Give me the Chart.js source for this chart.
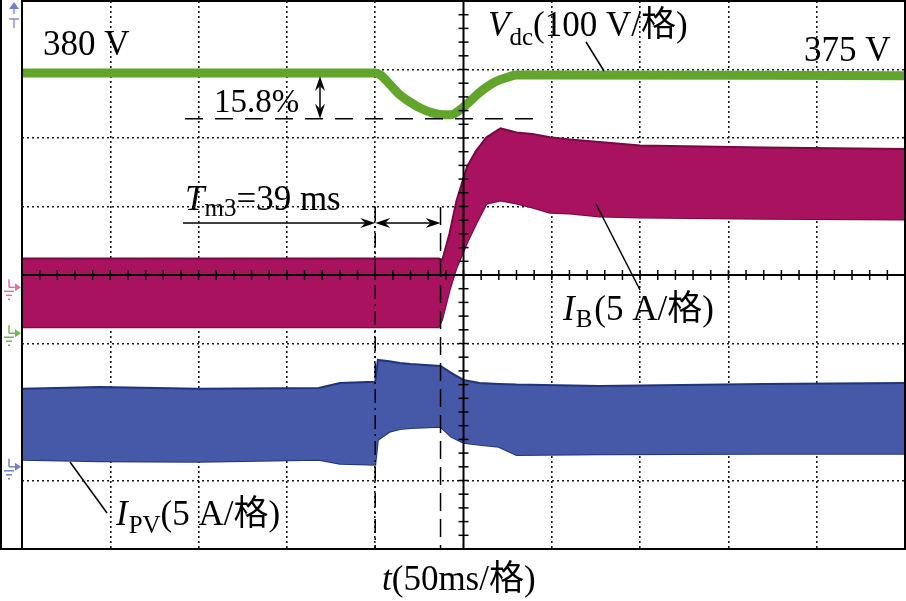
<!DOCTYPE html>
<html>
<head>
<meta charset="utf-8">
<script src="https://cdn.jsdelivr.net/npm/chart.js@4.4.0/dist/chart.umd.min.js"></script>
<style>
  html, body { margin: 0; padding: 0; background: #fff; }
</style>
</head>
<body>
<canvas id="scope" width="906" height="601"></canvas>
<script>
// t axis: 50 ms per division, 10 divisions
const tMin = 0
const tMax = 500

// Vdc (V), 100 V/div
const vdcTime = [0, 200, 203, 208, 214, 220, 226, 232, 238, 243, 248, 253, 258, 263, 268, 274, 280, 500]
const vdcVolts = [380, 380, 377, 364, 348, 337, 328, 322, 319, 319, 326, 337, 349, 359, 367, 373, 377, 376]

// IB envelope (A), 5 A/div
const ibTime = [0, 236, 238, 242, 246, 252, 257, 263, 271, 280, 289, 299, 310, 327, 350, 420, 500]
const ibUpper = [2.11, 2.11, 2.0, 3.9, 6.3, 8.8, 9.95, 10.95, 11.6, 11.3, 11.2, 10.95, 10.8, 10.6, 10.35, 10.2, 10.1]
const ibLower = [-2.92, -2.92, -2.3, -0.27, 1.41, 3.24, 4.6, 6.1, 6.34, 6.12, 5.83, 5.45, 5.39, 5.17, 5.1, 5.0, 4.96]

// IPV envelope (A), 5 A/div
const ipvTime = [0, 44, 100, 168, 180, 200, 201.5, 208, 214, 220, 237, 243, 250, 259, 270, 280, 327, 420, 500]
const ipvUpper = [5.69, 5.83, 5.69, 5.76, 6.12, 6.2, 7.8, 7.7, 7.58, 7.5, 7.36, 6.85, 6.34, 6.12, 6.05, 6.0, 5.9, 6.05, 6.12]
const ipvLower = [0.51, 0.4, 0.36, 0.51, 0.22, 0.15, 1.97, 2.55, 2.75, 2.84, 2.92, 2.2, 1.75, 1.6, 1.46, 0.87, 0.92, 0.95, 0.95]

// channel scale (units per division) and ground level (divisions from centre)
const vdcPerDiv = 100, vdcGround = -0.85
const ibPerDiv = 5, ibGround = -0.18
const ipvPerDiv = 5, ipvGround = -2.8

// marker times for the Tm3 annotation (ms)
const markStart = 200
const markEnd = 237

const serif = "'Liberation Serif', 'Times New Roman', 'Noto Sans CJK SC', serif"

function toPoints(times, values, perDiv, ground) {
  return times.map((t, i) => ({ x: t, y: values[i] / perDiv + ground }))
}

function band(times, values, perDiv, ground, fill, edge, fillTo) {
  return {
    data: toPoints(times, values, perDiv, ground),
    borderColor: edge,
    backgroundColor: fill,
    borderWidth: 2,
    pointRadius: 0,
    tension: 0,
    fill: fillTo
  }
}

function drawRich(ctx, x, y, parts) {
  parts.forEach(p => {
    ctx.font = (p.italic ? 'italic ' : '') + p.size + 'px ' + serif
    ctx.fillText(p.t, x, y + (p.dy || 0))
    x += ctx.measureText(p.t).width + (p.gap || 0)
  })
}

function arrowHead(ctx, x, y, dir, horizontal) {
  // dir = +1 / -1, tip at (x, y)
  ctx.beginPath()
  if (horizontal) {
    ctx.moveTo(x, y)
    ctx.lineTo(x - dir * 15, y - 5)
    ctx.lineTo(x - dir * 10, y)
    ctx.lineTo(x - dir * 15, y + 5)
  } else {
    ctx.moveTo(x, y)
    ctx.lineTo(x - 5, y - dir * 15)
    ctx.lineTo(x, y - dir * 10)
    ctx.lineTo(x + 5, y - dir * 15)
  }
  ctx.closePath()
  ctx.fill()
}

function line(ctx, x1, y1, x2, y2, dash) {
  ctx.setLineDash(dash || [])
  ctx.beginPath()
  ctx.moveTo(x1, y1)
  ctx.lineTo(x2, y2)
  ctx.stroke()
  ctx.setLineDash([])
}

function groundMarker(ctx, y, color) {
  ctx.save()
  ctx.strokeStyle = color
  ctx.fillStyle = color
  ctx.lineWidth = 1.5
  line(ctx, 9, y - 8, 9, y)
  line(ctx, 9, y, 16, y)
  ctx.beginPath()
  ctx.moveTo(21, y)
  ctx.lineTo(15, y - 4)
  ctx.lineTo(15, y + 4)
  ctx.closePath()
  ctx.fill()
  line(ctx, 4, y + 4, 14, y + 4)
  line(ctx, 6, y + 8, 12, y + 8)
  line(ctx, 8, y + 12, 10, y + 12)
  ctx.restore()
}

// frame, centre axes with minor ticks, annotations and labels
const scopePlugin = {
  id: 'scopeDecor',
  afterDatasetsDraw(chart) {
    const ctx = chart.ctx
    const a = chart.chartArea
    const xs = chart.scales.x
    const ys = chart.scales.y
    const cx = xs.getPixelForValue((tMin + tMax) / 2)
    const cy = ys.getPixelForValue(0)

    ctx.save()
    ctx.strokeStyle = '#000'
    ctx.fillStyle = '#000'

    // centre crosshair
    ctx.lineWidth = 2
    line(ctx, cx, a.top, cx, a.bottom)
    line(ctx, a.left, cy, a.right, cy)
    ctx.lineWidth = 1.5
    for (let v = -4; v <= 4.001; v += 0.2) {
      const py = ys.getPixelForValue(v)
      line(ctx, cx - 5, py, cx + 5, py)
    }
    for (let t = tMin; t <= tMax + 0.01; t += 10) {
      const px = xs.getPixelForValue(t)
      line(ctx, px, cy - 5, px, cy + 5)
    }

    // frame
    ctx.lineWidth = 2
    ctx.strokeRect(a.left, a.top, a.right - a.left, a.bottom - a.top)
    line(ctx, 1, 0, 1, a.bottom)
    line(ctx, 0, a.bottom, a.left, a.bottom)

    // 15.8% dip annotation
    ctx.lineWidth = 1.5
    const dipY = ys.getPixelForValue(Math.min(...vdcVolts) / vdcPerDiv + vdcGround) + 4
    const topY = ys.getPixelForValue(vdcVolts[0] / vdcPerDiv + vdcGround) + 3
    line(ctx, 185, dipY, 535, dipY, [18, 12])
    line(ctx, 320, topY + 4, 320, dipY - 4)
    arrowHead(ctx, 320, topY, -1, false)
    arrowHead(ctx, 320, dipY, 1, false)

    // Tm3 markers
    const x1 = xs.getPixelForValue(markStart)
    const x2 = xs.getPixelForValue(markEnd)
    line(ctx, x1, 207, x1, a.bottom, [14, 5, 2, 5])
    line(ctx, x2, 207, x2, a.bottom, [18, 8])
    const ay = 223
    line(ctx, 183, ay, x1 - 4, ay)
    arrowHead(ctx, x1, ay, 1, true)
    line(ctx, x1 + 4, ay, x2 - 4, ay)
    arrowHead(ctx, x1, ay, -1, true)
    arrowHead(ctx, x2, ay, 1, true)

    // leader lines
    line(ctx, 586, 42, 604, 71)
    line(ctx, 596, 204, 640, 290)
    line(ctx, 70, 462, 107, 513)

    // labels
    ctx.textBaseline = 'alphabetic'
    drawRich(ctx, 43, 55, [{ t: '380 V', size: 35 }])
    drawRich(ctx, 804, 61, [{ t: '375 V', size: 35 }])
    drawRich(ctx, 488, 36, [
      { t: 'V', size: 35, italic: true },
      { t: 'dc', size: 25, dy: 9 },
      { t: '(100 V/格)', size: 35 }
    ])
    drawRich(ctx, 214, 112, [{ t: '15.8%', size: 33 }])
    drawRich(ctx, 185, 210, [
      { t: 'T', size: 35, italic: true },
      { t: 'm3', size: 25, dy: 6 },
      { t: '=39 ms', size: 35 }
    ])
    drawRich(ctx, 563, 320, [
      { t: 'I', size: 35, italic: true, gap: 1 },
      { t: 'B', size: 25, dy: 7, gap: 2 },
      { t: '(5 A/格)', size: 35 }
    ])
    drawRich(ctx, 116, 525, [
      { t: 'I', size: 35, italic: true, gap: 1 },
      { t: 'PV', size: 25, dy: 8 },
      { t: '(5 A/格)', size: 35 }
    ])
    drawRich(ctx, 382, 590, [
      { t: 't', size: 35, italic: true },
      { t: '(50ms/格)', size: 35 }
    ])

    // channel markers on the left edge
    groundMarker(ctx, ys.getPixelForValue(ibGround), '#e070a8')
    groundMarker(ctx, ys.getPixelForValue(vdcGround), '#70b850')
    groundMarker(ctx, ys.getPixelForValue(ipvGround), '#7080c8')
    ctx.fillStyle = '#7080c8'
    ctx.beginPath()
    ctx.moveTo(14, 2)
    ctx.lineTo(9, 9)
    ctx.lineTo(19, 9)
    ctx.closePath()
    ctx.fill()
    ctx.strokeStyle = '#8890d0'
    ctx.lineWidth = 1.5
    line(ctx, 14, 9, 14, 14)
    line(ctx, 9, 19, 19, 19)
    line(ctx, 14, 19, 14, 28)
    ctx.restore()
  }
}

const hideCentre = (value, edges) => edges.includes(value) ? 'rgba(0,0,0,0)' : '#1a1a1a'

new Chart(document.getElementById('scope'), {
  type: 'line',
  data: {
    datasets: [
      band(ipvTime, ipvUpper, ipvPerDiv, ipvGround, '#4559a8', '#22337a', '+1'),
      band(ipvTime, ipvLower, ipvPerDiv, ipvGround, '#4559a8', '#22337a', false),
      band(ibTime, ibUpper, ibPerDiv, ibGround, '#a8125e', '#760a42', '+1'),
      band(ibTime, ibLower, ibPerDiv, ibGround, '#a8125e', '#760a42', false),
      {
        data: toPoints(vdcTime, vdcVolts, vdcPerDiv, vdcGround),
        borderColor: '#62a52c',
        borderWidth: 9,
        pointRadius: 0,
        cubicInterpolationMode: 'monotone',
        fill: false
      }
    ]
  },
  options: {
    responsive: false,
    animation: false,
    events: [],
    layout: { padding: { left: 22, right: 1, top: 1, bottom: 52 } },
    plugins: { legend: { display: false }, tooltip: { enabled: false } },
    scales: {
      x: {
        type: 'linear',
        min: tMin,
        max: tMax,
        ticks: { display: false, stepSize: 50 },
        grid: {
          drawTicks: false,
          lineWidth: 1.6,
          color: c => hideCentre(c.tick.value, [tMin, (tMin + tMax) / 2, tMax])
        },
        border: { display: false, dash: [2, 3] }
      },
      y: {
        type: 'linear',
        min: -4,
        max: 4,
        ticks: { display: false, stepSize: 1 },
        grid: {
          drawTicks: false,
          lineWidth: 1.6,
          color: c => hideCentre(c.tick.value, [-4, 0, 4])
        },
        border: { display: false, dash: [2, 3] }
      }
    }
  },
  plugins: [scopePlugin]
})
</script>
</body>
</html>
